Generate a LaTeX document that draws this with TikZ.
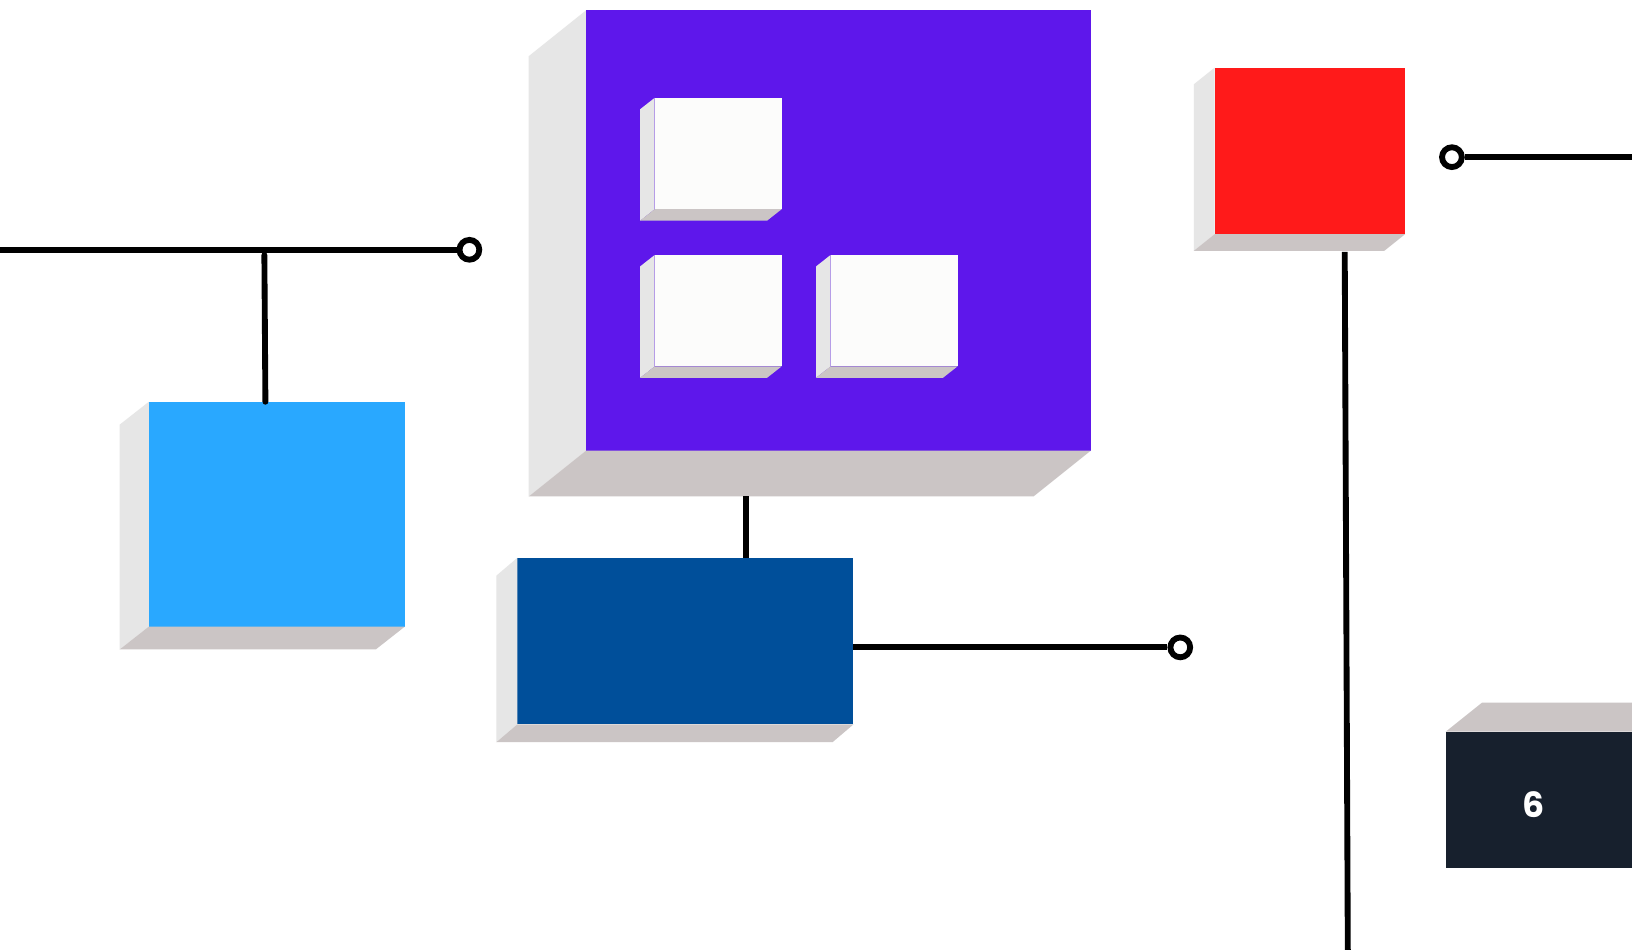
\documentclass[tikz,border=0pt]{standalone}
\usepackage{fontspec}
\newfontfamily\popfont{Poppins}
\usetikzlibrary{calc}

\definecolor{violetface}{HTML}{5E17EB}
\definecolor{skyface}{HTML}{29A8FF}
\definecolor{navyface}{HTML}{004F9A}
\definecolor{redface}{HTML}{FF1A1A}
\definecolor{inkface}{HTML}{17202D}
\definecolor{paperface}{HTML}{FCFCFB}
\definecolor{sidegray}{HTML}{E6E6E6}
\definecolor{basegray}{HTML}{CBC5C5}

\tikzset{
  face/.style={rectangle, inner sep=0pt, outer sep=0pt, draw=none},
  wire/.style={draw=black, line width=1.6pt},
  port/.style={circle, draw=black, fill=white, line width=1.6pt, inner sep=0pt, minimum size=0.19cm},
}

% extruded box: front face node plus its left side and bottom faces
% #1 name, #2 #3 top-left corner, #4 width, #5 height, #6 #7 depth offset, #8 colour
\newcommand\slab[8]{%
  \node[face, fill=#8, minimum width=#4*0.01cm, minimum height=#5*0.01cm, anchor=north west] (#1) at (#2,#3) {};
  \fill[sidegray] (#1.north west) -- ++(#6,#7) -- ($(#1.south west)+(#6,#7)$) -- (#1.south west) -- cycle;
  \fill[basegray] (#1.south west) -- (#1.south east) -- ++(#6,#7) -- ($(#1.south west)+(#6,#7)$) -- cycle;
}

\begin{document}
\begin{tikzpicture}[x=0.01cm, y=-0.01cm]
\useasboundingbox (0,0) rectangle (1568,912);
\clip (0,0) rectangle (1568,912);
\fill[white] (0,0) rectangle (1568,912);

% boxes
\slab{sky}{143}{386}{246}{216}{-28}{22}{skyface}
\slab{core}{563}{10}{485}{423}{-55}{44}{violetface}
\slab{tileA}{629}{94}{122}{107}{-14}{11}{paperface}
\slab{tileB}{629}{245}{122}{107}{-14}{11}{paperface}
\slab{tileC}{798}{245}{122}{107}{-14}{11}{paperface}
\slab{navy}{497}{536}{323}{160}{-20}{17}{navyface}
\slab{alert}{1167}{65}{183}{160}{-20}{16}{redface}

% dark box with its top face
\node[face, fill=inkface, minimum width=2.6cm, minimum height=1.31cm, anchor=north west] (ink) at (1389,703) {};
\fill[basegray] (ink.north west) -- ++(35,-28) -- ++(260,0) -- (ink.north east) -- cycle;
\node[text=white, font=\popfont\bfseries\fontsize{9.5pt}{11pt}\selectfont] (six) at (1473,773) {6};

% ports
\node[port] (p1) at (451,240) {};
\node[port] (p2) at (1134,622) {};
\node[port] (p3) at (1395,151) {};

% free line ends
\coordinate (leftend) at (-10,240);
\coordinate (tee) at (254,245);
\coordinate (rightend) at (1580,151);
\coordinate (coreout) at (717,477);
\coordinate (alertout) at (1292,242);
\coordinate (floor) at (1295,920);

% connectors
\draw[wire] (leftend) -- (p1);
\draw[wire, line cap=round] (tee) -- ($(sky.north west)+(112,0)$);
\draw[wire] (coreout) -- (coreout |- navy.north);
\draw[wire] (p2 -| navy.east) -- (p2);
\draw[wire] (p3) -- (rightend);
\draw[wire] (alertout) -- (floor);
\end{tikzpicture}
\end{document}
